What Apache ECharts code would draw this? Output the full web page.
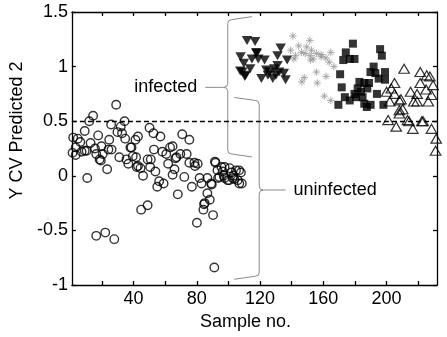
<!DOCTYPE html>
<html>
<head>
<meta charset="utf-8">
<script src="https://cdn.jsdelivr.net/npm/echarts@6/dist/echarts.min.js"></script>
<style>
  html, body { margin: 0; padding: 0; background: #fff; }
  #chart { width: 447px; height: 337px; }
</style>
</head>
<body>
<div id="chart"></div>
<script>
// uninfected samples (open circles)
var uninfected = [
  [1.4,0.21],[1.8,0.35],[3.4,0.19],[4.7,0.34],[3.4,0.26],[6.3,0.31],[7.1,0.22],[9.1,0.23],[10.3,0.23],[9.1,0.41],
  [12,0.50],[14.4,0.55],[12.8,0.30],[15.6,0.25],[17.6,0.37],[19.7,0.27],[16.4,0.20],[20.5,0.20],[18.5,0.15],[10.7,-0.02],
  [19.3,0.14],[23.3,0.06],[24.6,0.33],[25.8,0.47],[24.1,0.24],[26.1,0.24],[29,0.65],[29.8,0.40],[31.9,0.45],[34.3,0.50],
  [32.7,0.39],[34.7,0.34],[38,0.26],[38.7,0.26],[42.8,0.36],[41.2,0.33],[39.5,0.18],[31,0.17],[35.5,0.15],[42.8,0.09],
  [36.7,0.11],[41.6,0.17],[42,0.08],[44.4,0.07],[46,0.0],[50.1,0.44],[52.6,0.39],[57,0.36],[52.9,0.24],[48.9,0.15],
  [50.5,0.08],[50.9,0.15],[53.8,0.04],[55,-0.10],[56.2,-0.05],[59,-0.07],[58.2,0.22],[60.7,0.20],[63.1,0.26],[64.7,0.27],
  [61.9,0.11],[67.2,0.17],[64.7,0.01],[65.9,0.06],[66.5,0.16],[68,-0.17],[70.8,0.38],[75.3,0.33],[69.6,0.20],[73.6,0.20],
  [75.3,0.12],[78.5,0.12],[80.6,0.11],[72.1,-0.01],[76.9,-0.10],[78.9,0.09],[81.8,-0.02],[83,-0.07],[84.2,-0.31],[86.7,-0.16],
  [86.7,-0.02],[88.2,-0.22],[89.5,-0.08],[90.3,-0.36],[84.6,-0.26],[80.1,-0.43],[91.1,-0.84],[44.8,-0.31],[48.9,-0.27],[16.4,-0.55],
  [22.1,-0.52],[27.8,-0.58],[91.5,0.13],[95.6,0.08],[97.6,0.08],[91.9,0.12],[93.1,0.05],[94.3,-0.01],[96.4,0.04],[97.6,-0.02],
  [99.6,-0.04],[102,0.03],[100.4,-0.04],[103.7,-0.03],[106.9,-0.07],[89.1,-0.07],[85,-0.25],[93.5,-0.02],[100.8,0.07],[104.8,0.05],
  [106.8,0.05],[102.8,-0.02],[105.9,-0.04],[108.5,-0.07],[107.9,0.03],[103.1,0.0],[97,0.0]
]
// infected groups
var groupA = [ // filled down triangles
  [111.8,1.24],[116.9,1.23],[107.7,1.09],[109.8,1.03],[108.8,0.95],[110.8,0.92],[114.9,1.07],[117.9,1.12],[118.9,1.07],[113.8,0.98],
  [122.9,1.06],[124,0.97],[120.9,0.89],[125,0.92],[128.1,0.89],[129,0.98],[131.1,1.01],[133.1,1.17],[131.1,1.10],[137.2,1.06],
  [135.1,0.94],[136.2,0.88],[126,0.95],[132.1,0.95],[130.1,0.92],[117.7,1.13],[107.5,0.96],[110.4,0.91]
]
var groupB = [ // grey asterisks
  [140.8,1.28],[144.5,1.19],[151.5,1.24],[149.5,1.18],[139.4,1.15],[142.5,1.10],[146.2,1.13],[148.6,1.12],[151.7,1.10],[155.7,1.12],
  [158.7,1.11],[164.8,1.13],[161.7,1.08],[163.8,1.04],[166.8,1.00],[152.1,1.06],[141.5,1.07],[155.7,0.95],[161.8,0.91],[148,0.90],
  [146.5,0.86],[156.2,0.85],[160.7,0.73],[164.8,0.69],[153.6,1.07],[158.7,1.09],[152.6,1.15]
]
var groupC = [ // filled squares
  [178.8,1.21],[174.3,1.13],[172.7,1.06],[176.8,1.07],[179.8,1.07],[196,1.16],[197.1,1.10],[170.7,0.93],[191.9,1.00],[189.9,0.95],
  [193,0.94],[199.1,0.95],[195.1,0.89],[199.1,0.88],[182.9,0.86],[186,0.85],[189,0.85],[181.8,0.80],[171.7,0.81],[187.9,0.80],
  [183.9,0.77],[194,0.75],[173.7,0.72],[180.8,0.72],[176.8,0.69],[184.9,0.72],[186,0.66],[190,0.65],[198.1,0.65],[169.6,0.65],
  [187.6,0.63],[179.8,0.75]
]
var groupD = [ // open up triangles
  [211.2,0.98],[221.4,0.95],[225.5,0.92],[227.5,0.91],[229.5,0.83],[205.1,0.85],[203.1,0.80],[200.1,0.77],[205.1,0.75],[221.4,0.85],
  [215.3,0.77],[219.4,0.75],[228.5,0.74],[202.1,0.68],[208.2,0.69],[217.3,0.68],[219.4,0.68],[226.5,0.68],[208.2,0.60],[210.3,0.61],
  [208.2,0.57],[201.1,0.51],[213.3,0.51],[214.3,0.50],[222.4,0.50],[206.2,0.45],[216.7,0.43],[228.5,0.43],[231.5,0.34],[231.1,0.23],
  [209.2,0.70],[225.1,0.79],[223.2,0.50]
]
var threshold = 0.5
var xTickValues = [20, 40, 60, 80, 100, 120, 140, 160, 180, 200, 220]
var xLabelValues = [40, 80, 120, 160, 200]
// brace annotations (data coords)
var braces = [
  { label: 'infected', x: 99.6, armX: 114.9, tipX: 85.4, yTop: 1.43, yBot: 0.20, yTip: 0.81 },
  { label: 'uninfected', x: 119.5, armX: 103.7, tipX: 136.2, yTop: 0.69, yBot: -0.92, yTip: -0.13 }
]

var font = 'Liberation Sans'
var chart = echarts.init(document.getElementById('chart'))

function tickAxis(pos, show) {
  return {
    type: 'value', position: pos, min: 1, max: 232,
    axisLine: { show: true, onZero: false, lineStyle: { color: '#000', width: 1.3 } },
    axisTick: { show: true, inside: true, length: 4, customValues: xTickValues, lineStyle: { color: '#000', width: 1.3 } },
    axisLabel: { show: show, customValues: xLabelValues, color: '#000', fontSize: 18, fontFamily: font, margin: 5 },
    splitLine: { show: false }
  }
}

var xBottom = tickAxis('bottom', true)
xBottom.name = 'Sample no.'
xBottom.nameLocation = 'middle'
xBottom.nameGap = 28
xBottom.nameTextStyle = { color: '#000', fontSize: 18, fontFamily: font, padding: [0, 18, 0, 0] }
var xTop = tickAxis('top', false)

function yAxis(pos, show) {
  return {
    type: 'value', position: pos, min: -1, max: 1.5, interval: 0.5,
    axisLine: { show: true, onZero: false, lineStyle: { color: '#000', width: 1.3 } },
    axisTick: { show: true, inside: true, length: 4, lineStyle: { color: '#000', width: 1.3 } },
    axisLabel: { show: show, color: '#000', fontSize: 18, fontFamily: font, margin: 4 },
    splitLine: { show: false }
  }
}
var yLeft = yAxis('left', true)
yLeft.name = 'Y CV Predicted 2'
yLeft.nameLocation = 'middle'
yLeft.nameGap = 38
yLeft.nameTextStyle = { color: '#000', fontSize: 18, fontFamily: font, padding: [0, 0, 0, 36] }
var yRight = yAxis('right', false)

chart.setOption({
  animation: false,
  backgroundColor: '#fff',
  grid: { left: 58, right: 10, top: 12, bottom: 52 },
  xAxis: [xBottom, xTop],
  yAxis: [yLeft, yRight],
  series: [
    {
      type: 'custom',
      clip: false,
      silent: true,
      data: braces.map(function(b) { return [b.x, b.yTip] }),
      renderItem: function(params, api) {
        var b = braces[params.dataIndex]
        var top = api.coord([b.x, b.yTop])
        var bot = api.coord([b.x, b.yBot])
        var tip = api.coord([b.tipX, b.yTip])
        var arm = api.coord([b.armX, b.yTop])
        var xv = top[0], xa = arm[0], xt = tip[0]
        var yt = top[1], yb = bot[1], ym = tip[1]
        var d = xt < xv ? -1 : 1
        var s = xa > xv ? 1 : -1
        var r = 4
        var p = 'M' + xa + ',' + (yt - 3) +
          ' L' + (xv + s * r) + ',' + yt +
          ' Q' + xv + ',' + yt + ' ' + xv + ',' + (yt + r) +
          ' L' + xv + ',' + (ym - r) +
          ' Q' + xv + ',' + ym + ' ' + (xv + d * r) + ',' + ym +
          ' L' + xt + ',' + ym +
          ' M' + (xv + d * r) + ',' + ym +
          ' Q' + xv + ',' + ym + ' ' + xv + ',' + (ym + r) +
          ' L' + xv + ',' + (yb - r) +
          ' Q' + xv + ',' + yb + ' ' + (xv + s * r) + ',' + yb +
          ' L' + xa + ',' + (yb + 3)
        return {
          type: 'group',
          children: [
            { type: 'path', shape: { pathData: p }, style: { stroke: '#8a8a8a', fill: null, lineWidth: 1 } },
            { type: 'text', style: { text: b.label, x: xt + d * 8, y: ym, align: d < 0 ? 'right' : 'left', verticalAlign: 'middle', fontSize: 18, fontFamily: font, fill: '#000' } }
          ]
        }
      }
    },
    {
      type: 'scatter', data: uninfected, symbol: 'circle', symbolSize: 8.5,
      itemStyle: { color: 'rgba(0,0,0,0)', borderColor: '#000', borderWidth: 1.4 },
      markLine: {
        silent: true, symbol: 'none', label: { show: false },
        lineStyle: { type: [5, 3], color: '#000', width: 1.4 },
        data: [{ yAxis: threshold }]
      }
    },
    {
      type: 'scatter', data: groupA, symbol: 'triangle', symbolRotate: 180, symbolSize: [10.5, 9],
      itemStyle: { color: '#000' }
    },
    {
      type: 'scatter', data: groupB,
      symbol: 'path://M5,0L5,10M0,5L10,5M1.5,1.5L8.5,8.5M1.5,8.5L8.5,1.5', symbolSize: 7.5,
      itemStyle: { color: 'rgba(0,0,0,0)', borderColor: '#999', borderWidth: 1 }
    },
    {
      type: 'scatter', data: groupC, symbol: 'rect', symbolSize: 8,
      itemStyle: { color: '#000' }
    },
    {
      type: 'scatter', data: groupD, symbol: 'triangle', symbolSize: [10.5, 9],
      itemStyle: { color: 'rgba(0,0,0,0)', borderColor: '#000', borderWidth: 1.2 }
    }
  ]
})
</script>
</body>
</html>
